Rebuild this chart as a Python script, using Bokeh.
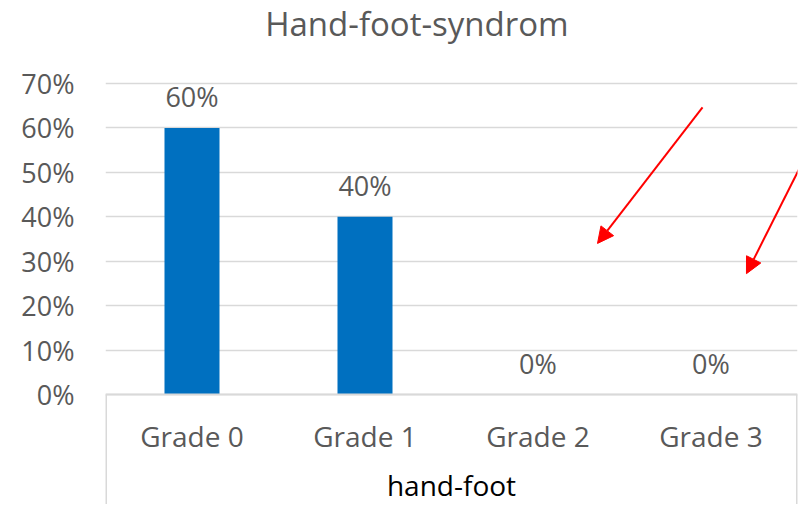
from bokeh.plotting import figure
from bokeh.models import (FactorRange, Range1d, FixedTicker, NumeralTickFormatter,
                          Arrow, NormalHead, ColumnDataSource, Label)
from bokeh.core.properties import value
from bokeh.embed import file_html
from bokeh.resources import INLINE

# ---- data ----
grades = ["Grade 0", "Grade 1", "Grade 2", "Grade 3"]
shares = [0.60, 0.40, 0.0, 0.0]
share_labels = ["60%", "40%", "0%", "0%"]
y_ticks = [0.0, 0.1, 0.2, 0.3, 0.4, 0.5, 0.6, 0.7]
group_label = "hand-foot"
chart_title = "Hand-foot-syndrom"

# red annotation arrows (synthetic category x, share y)
arrow_x_start = [3.451, 4.058]
arrow_y_start = [0.646, 0.545]
arrow_x_end = [2.844, 3.705]
arrow_y_end = [0.340, 0.272]

FONT = "Open Sans"
GREY = "#595959"
LINE = "#d9d9d9"
Y_BOTTOM = -0.2476   # room below the category axis for the group box
Y_TOP = 0.8868       # room above the plot for the title

p = figure(width=799, height=504, x_range=FactorRange(factors=grades, range_padding=0),
           y_range=Range1d(Y_BOTTOM, Y_TOP), output_backend="svg", toolbar_location=None,
           min_border_left=105, min_border_right=2, min_border_top=0, min_border_bottom=0)
p.outline_line_color = None
p.background_fill_color = "white"
p.border_fill_color = "white"

p.add_layout(Label(x=1.80, y=0.834, text=chart_title, text_align="center",
                   text_baseline="alphabetic", text_font=FONT, text_font_size="33px",
                   text_color=GREY))

src = ColumnDataSource(dict(x=grades, top=shares, lab=share_labels))
p.vbar(x="x", top="top", bottom=0, width=0.318, source=src, fill_color="#0070C0", line_color=None)
p.text(x="x", y="top", text="lab", source=src, text_align="center", text_baseline="alphabetic",
       y_offset=-31, text_font=value(FONT), text_font_size="27px", text_color=GREY)

# y axis
p.yaxis.ticker = FixedTicker(ticks=y_ticks)
p.yaxis.formatter = NumeralTickFormatter(format="0%")
p.yaxis.axis_line_color = None
p.yaxis.major_tick_line_color = None
p.yaxis.minor_tick_line_color = None
p.yaxis.major_label_standoff = 25
p.yaxis.major_label_text_font = FONT
p.yaxis.major_label_text_font_size = "27px"
p.yaxis.major_label_text_color = GREY

# x axis, drawn at 0 inside the frame
p.xaxis.fixed_location = 0
p.xaxis.axis_line_color = LINE
p.xaxis.axis_line_width = 2
p.xaxis.major_tick_line_color = None
p.xaxis.major_label_standoff = 17
p.xaxis.major_label_text_font = FONT
p.xaxis.major_label_text_font_size = "28px"
p.xaxis.major_label_text_color = GREY
p.xaxis.axis_label = group_label
p.xaxis.axis_label_text_font = FONT
p.xaxis.axis_label_text_font_size = "28px"
p.xaxis.axis_label_text_font_style = "normal"
p.xaxis.axis_label_text_color = "#000000"
p.xaxis.axis_label_standoff = 7

p.xgrid.grid_line_color = None
p.ygrid.ticker = FixedTicker(ticks=y_ticks)
p.ygrid.grid_line_color = LINE
p.ygrid.grid_line_width = 1.5

# group box edges below the axis
edge_x = [0, len(grades)]
p.segment(x0=edge_x, y0=[0, 0], x1=edge_x, y1=[Y_BOTTOM, Y_BOTTOM],
          line_color=LINE, line_width=3)

for xs, ys, xe, ye in zip(arrow_x_start, arrow_y_start, arrow_x_end, arrow_y_end):
    p.add_layout(Arrow(x_start=xs, y_start=ys, x_end=xe, y_end=ye,
                       end=NormalHead(size=16, fill_color="red", line_color="red"),
                       line_color="red", line_width=2))

open("out.html", "w").write(file_html(p, INLINE))
